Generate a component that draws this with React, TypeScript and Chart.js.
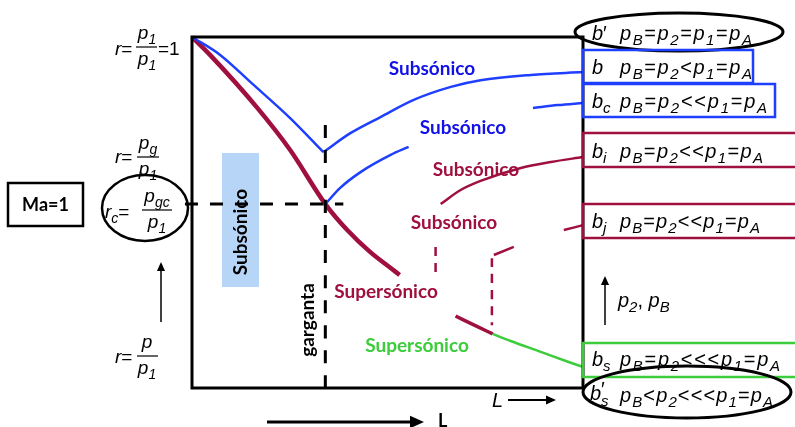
import React, { useEffect, useRef } from 'react';
import { Chart, registerables } from 'chart.js';
Chart.register(...registerables);

// L = position along the nozzle (0..1), r = p/p1
const bDownL = [0, 0.072, 0.149, 0.251, 0.336];
const bDownR = [1.0, 0.949, 0.872, 0.769, 0.672];
const bUpL = [0.336, 0.405, 0.482, 0.567, 0.662, 0.738, 0.867, 1.0];
const bUpR = [0.672, 0.726, 0.772, 0.821, 0.858, 0.877, 0.892, 0.9];
const bcNearL = [0.341, 0.379, 0.431, 0.508, 0.554];
const bcNearR = [0.524, 0.57, 0.615, 0.664, 0.687];
const bcFarL = [0.872, 0.936, 1.0];
const bcFarR = [0.798, 0.806, 0.812];
const mainL = [0, 0.046, 0.167, 0.251, 0.341, 0.397, 0.456, 0.508, 0.531];
const mainR = [1.0, 0.949, 0.798, 0.678, 0.524, 0.45, 0.387, 0.342, 0.322];
const tailL = [0.674, 0.726, 0.769];
const tailR = [0.205, 0.177, 0.154];
const bsL = [0.769, 0.815, 0.892, 0.956, 1.0];
const bsR = [0.154, 0.134, 0.103, 0.077, 0.06];
const biL = [0.636, 0.687, 0.738, 0.841, 0.918, 1.0];
const biR = [0.524, 0.564, 0.59, 0.627, 0.644, 0.658];
const bjNearL = [0.772, 0.823];
const bjNearR = [0.379, 0.402];
const bjFarL = [0.951, 1.0];
const bjFarR = [0.45, 0.464];
const throatL = [0.341, 0.341];
const throatR = [0.749, -0.012];
const critL = [-0.018, 0.387];
const critR = [0.524, 0.524];
const shockIL = [0.623, 0.623];
const shockIR = [0.402, 0.322];
const shockJL = [0.767, 0.767];
const shockJR = [0.37, 0.179];

const BLUE = '#1f3fff';
const BLUE_T = '#1212e8';
const CRIMSON = '#a0103f';
const GREEN = '#3ccc3c';

const pts = (xs: number[], ys: number[]) => xs.map((x, i) => ({ x, y: ys[i] }));

type Tok = { t: string; k: 'i' | 's' | 'u' };
function parse(s: string): Tok[] {
  const out: Tok[] = [];
  let i = 0;
  while (i < s.length) {
    const c = s[i];
    if (c === '_') {
      i++;
      let sub = '';
      while (i < s.length && /[A-Za-z0-9]/.test(s[i])) { sub += s[i]; i++; }
      out.push({ t: sub, k: 's' });
      continue;
    }
    out.push({ t: c, k: /[a-zA-Z]/.test(c) ? 'i' : 'u' });
    i++;
  }
  return out;
}
const fnt = (k: string, size: number) =>
  k === 's' ? `italic ${Math.round(size * 0.74)}px "Liberation Sans"` :
  k === 'u' ? `${size}px "Liberation Sans"` : `italic ${size}px "Liberation Sans"`;

function mathW(ctx: CanvasRenderingContext2D, s: string, size: number) {
  return parse(s).reduce((a, t) => { ctx.font = fnt(t.k, size); return a + ctx.measureText(t.t).width; }, 0);
}
function drawMath(ctx: CanvasRenderingContext2D, s: string, x: number, base: number, size: number, color: string, target?: number) {
  const toks = parse(s);
  const ws = toks.map(t => { ctx.font = fnt(t.k, size); return ctx.measureText(t.t).width; });
  const tot = ws.reduce((a, b) => a + b, 0);
  const extra = target && toks.length > 1 ? (target - tot) / (toks.length - 1) : 0;
  let cx = x;
  ctx.fillStyle = color;
  ctx.textAlign = 'left';
  ctx.textBaseline = 'alphabetic';
  toks.forEach((t, i) => {
    ctx.font = fnt(t.k, size);
    ctx.fillText(t.t, cx, base + (t.k === 's' ? size * 0.26 : 0));
    cx += ws[i] + extra;
  });
}
function frac(ctx: CanvasRenderingContext2D, num: string, den: string, cx: number, barY: number, x1: number, x2: number, size: number) {
  drawMath(ctx, num, cx - mathW(ctx, num, size) / 2, barY - 8, size, '#000');
  drawMath(ctx, den, cx - mathW(ctx, den, size) / 2, barY + 18, size, '#000');
  ctx.strokeStyle = '#000';
  ctx.lineWidth = 1.2;
  ctx.beginPath(); ctx.moveTo(x1, barY); ctx.lineTo(x2, barY); ctx.stroke();
}
function label(ctx: CanvasRenderingContext2D, s: string, x: number, y: number, color: string, size = 19) {
  ctx.font = `bold ${size}px Lato`;
  ctx.fillStyle = color;
  ctx.textAlign = 'center';
  ctx.textBaseline = 'middle';
  ctx.fillText(s, x, y);
}
function rotLabel(ctx: CanvasRenderingContext2D, s: string, x: number, y: number, color: string, size = 19) {
  ctx.save();
  ctx.translate(x, y);
  ctx.rotate(-Math.PI / 2);
  label(ctx, s, 0, 0, color, size);
  ctx.restore();
}
function arrow(ctx: CanvasRenderingContext2D, x1: number, y1: number, x2: number, y2: number, lw: number, head: number) {
  const a = Math.atan2(y2 - y1, x2 - x1);
  ctx.strokeStyle = '#000';
  ctx.fillStyle = '#000';
  ctx.lineWidth = lw;
  ctx.beginPath();
  ctx.moveTo(x1, y1);
  ctx.lineTo(x2 - Math.cos(a) * head * 0.8, y2 - Math.sin(a) * head * 0.8);
  ctx.stroke();
  ctx.beginPath();
  ctx.moveTo(x2, y2);
  ctx.lineTo(x2 - head * Math.cos(a) + head * 0.45 * Math.sin(a), y2 - head * Math.sin(a) - head * 0.45 * Math.cos(a));
  ctx.lineTo(x2 - head * Math.cos(a) - head * 0.45 * Math.sin(a), y2 - head * Math.sin(a) + head * 0.45 * Math.cos(a));
  ctx.closePath();
  ctx.fill();
}
function ellipse(ctx: CanvasRenderingContext2D, cx: number, cy: number, rx: number, ry: number, lw: number) {
  ctx.strokeStyle = '#000';
  ctx.lineWidth = lw;
  ctx.beginPath();
  ctx.ellipse(cx, cy, rx, ry, 0, 0, Math.PI * 2);
  ctx.stroke();
}
function box(ctx: CanvasRenderingContext2D, x1: number, y1: number, x2: number, y2: number, color: string, lw = 2.5) {
  ctx.strokeStyle = color;
  ctx.lineWidth = lw;
  ctx.strokeRect(x1, y1, x2 - x1, y2 - y1);
}

const annot = {
  id: 'annot',
  beforeDatasetsDraw(chart: any) {
    const ctx: CanvasRenderingContext2D = chart.ctx;
    ctx.save();
    ctx.fillStyle = '#b6d5f7';
    ctx.fillRect(222, 153, 37, 134);
    rotLabel(ctx, 'Subsónico', 241, 232, '#000');
    rotLabel(ctx, 'garganta', 308, 320, '#000');
    label(ctx, 'Subsónico', 476, 170, CRIMSON);
    ctx.restore();
  },
  afterDatasetsDraw(chart: any) {
    const ctx: CanvasRenderingContext2D = chart.ctx;
    const a = chart.chartArea;
    ctx.save();
    // frame
    ctx.strokeStyle = '#000';
    ctx.lineWidth = 3;
    ctx.strokeRect(a.left, a.top, a.right - a.left, a.bottom - a.top);

    // labels inside
    label(ctx, 'Subsónico', 432, 69, BLUE_T);
    label(ctx, 'Subsónico', 463, 128, BLUE_T);
    label(ctx, 'Subsónico', 454, 223, CRIMSON);
    label(ctx, 'Supersónico', 386, 292, CRIMSON);
    label(ctx, 'Supersónico', 417, 346, GREEN);

    // left side
    const S = 19;
    drawMath(ctx, 'r=', 115, 55, S, '#000');
    frac(ctx, 'p_1', 'p_1', 147, 47, 136, 157, S);
    drawMath(ctx, '=1', 158, 55, S, '#000');

    drawMath(ctx, 'r=', 115, 163, S, '#000');
    frac(ctx, 'p_g', 'p_1', 148, 157, 137, 159, S);

    ellipse(ctx, 145, 208, 43, 33, 2.5);
    drawMath(ctx, 'r_c=', 105, 218, S, '#000');
    frac(ctx, 'p_gc', 'p_1', 157, 210, 142, 172, S);

    drawMath(ctx, 'r=', 115, 363, S, '#000');
    frac(ctx, 'p', 'p_1', 147, 356, 137, 158, S);

    arrow(ctx, 161, 322, 161, 262, 1.5, 9);

    box(ctx, 8, 183, 83, 226, '#000', 2.5);
    ctx.font = 'bold 18px Lato';
    ctx.fillStyle = '#000';
    ctx.textAlign = 'center';
    ctx.textBaseline = 'middle';
    ctx.fillText('Ma=1', 45.5, 205);

    // right side
    const R = 20;
    ellipse(ctx, 679, 32, 104, 19, 3);
    drawMath(ctx, 'b′', 592, 40, R, '#000');
    drawMath(ctx, 'p_B=p_2=p_1=p_A', 620, 40, R, '#000', 132);

    box(ctx, 583, 50, 753, 83, BLUE);
    drawMath(ctx, 'b', 592, 74, R, '#000');
    drawMath(ctx, 'p_B=p_2<p_1=p_A', 620, 74, R, '#000', 132);

    box(ctx, 583, 84, 775, 117, BLUE);
    drawMath(ctx, 'b_c', 592, 108, R, '#000');
    drawMath(ctx, 'p_B=p_2<<p_1=p_A', 620, 108, R, '#000', 147);

    box(ctx, 583, 133, 798, 167, CRIMSON);
    drawMath(ctx, 'b_i', 592, 158, R, '#000');
    drawMath(ctx, 'p_B=p_2<<p_1=p_A', 620, 158, R, '#000', 143);

    box(ctx, 583, 204, 798, 238, CRIMSON);
    drawMath(ctx, 'b_j', 592, 228, R, '#000');
    drawMath(ctx, 'p_B=p_2<<p_1=p_A', 620, 228, R, '#000', 140);

    arrow(ctx, 605, 325, 605, 276, 1.5, 9);
    drawMath(ctx, 'p_2, p_B', 618, 307, R, '#000');

    box(ctx, 583, 343, 798, 377, GREEN);
    drawMath(ctx, 'b_s', 592, 366, R, '#000');
    drawMath(ctx, 'p_B=p_2<<<p_1=p_A', 620, 366, R, '#000', 160);

    ellipse(ctx, 687, 392, 104, 26, 3);
    drawMath(ctx, 'b', 590, 400, R, '#000');
    ctx.font = `${R}px "Liberation Sans"`;
    ctx.fillText('′', 601, 396);
    ctx.font = `italic ${Math.round(R * 0.74)}px "Liberation Sans"`;
    ctx.fillText('s', 601, 406);
    drawMath(ctx, 'p_B<p_2<<<p_1=p_A', 620, 402, R, '#000', 153);

    // bottom
    arrow(ctx, 267, 422, 424, 422, 3, 14);
    ctx.font = 'bold 18px Lato';
    ctx.fillStyle = '#000';
    ctx.textAlign = 'left';
    ctx.textBaseline = 'alphabetic';
    ctx.fillText('L', 438, 427);
    drawMath(ctx, 'L', 492, 407, R, '#000');
    arrow(ctx, 508, 400, 556, 400, 2, 10);
    ctx.restore();
  },
};

export default function App() {
  const ref = useRef<HTMLCanvasElement | null>(null);
  useEffect(() => {
    if (!ref.current) return;
    const line = (xs: number[], ys: number[], color: string, w: number, dash?: number[]) => ({
      data: pts(xs, ys),
      showLine: true,
      borderColor: color,
      backgroundColor: color,
      borderWidth: w,
      borderDash: dash || [],
      pointRadius: 0,
      cubicInterpolationMode: 'monotone',
      clip: false as any,
    });
    const chart = new Chart(ref.current, {
      type: 'scatter',
      data: {
        datasets: [
          line(throatL, throatR, '#000', 3, [13, 12]),
          line(critL, critR, '#000', 3, [13, 12]),
          line(shockIL, shockIR, CRIMSON, 2.5, [9, 7]),
          line(shockJL, shockJR, CRIMSON, 2.5, [9, 7]),
          line(bDownL, bDownR, BLUE, 2.5),
          line(bUpL, bUpR, BLUE, 2.5),
          line(bcNearL, bcNearR, BLUE, 2.5),
          line(bcFarL, bcFarR, BLUE, 2.5),
          line(biL, biR, CRIMSON, 2.5),
          line(bjNearL, bjNearR, CRIMSON, 2.5),
          line(bjFarL, bjFarR, CRIMSON, 2.5),
          line(bsL, bsR, GREEN, 2.5),
          line(tailL, tailR, CRIMSON, 3.5),
          line(mainL, mainR, CRIMSON, 4.5),
        ] as any,
      },
      options: {
        responsive: false,
        animation: false,
        layout: { padding: { left: 192, top: 37, right: 212, bottom: 39 } },
        scales: {
          x: { type: 'linear', min: 0, max: 1, display: false },
          y: { type: 'linear', min: 0, max: 1, display: false },
        },
        plugins: { legend: { display: false }, tooltip: { enabled: false } },
      } as any,
      plugins: [annot as any],
    });
    return () => chart.destroy();
  }, []);
  return (
    <div style={{ position: 'fixed', left: 0, top: 0, width: 795, height: 427, background: '#fff' }}>
      <canvas ref={ref} width={795} height={427} style={{ display: 'block' }} />
    </div>
  );
}
